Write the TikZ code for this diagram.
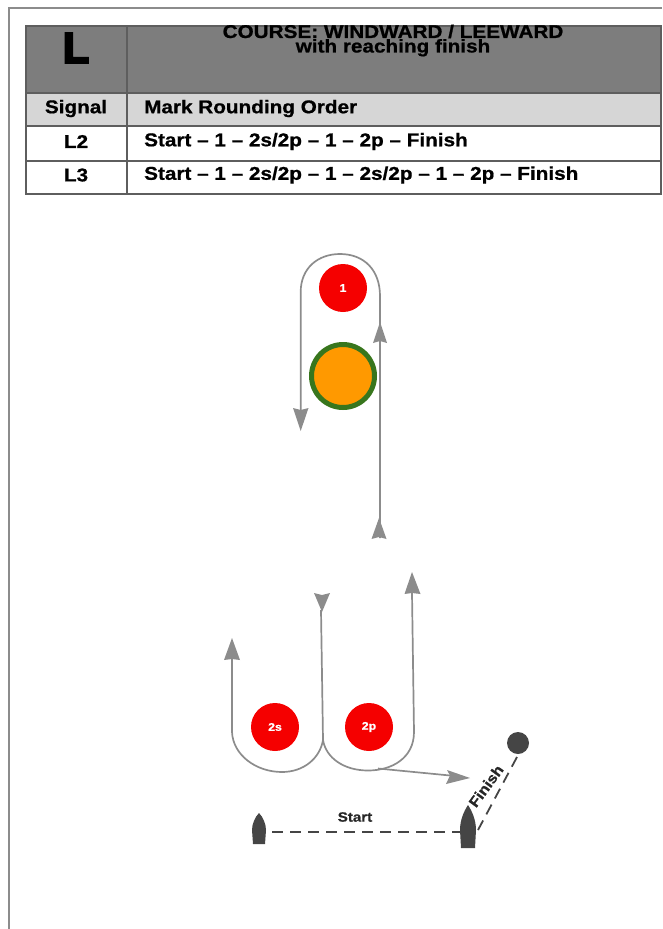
\documentclass[tikz,border=0pt]{standalone}
\usepackage{fontspec}
\setmainfont{Liberation Sans}
\newfontfamily\widefont[FakeStretch=1.12,BoldFont={Liberation Sans Bold},BoldFeatures={FakeStretch=1.12,FakeBold=0.8}]{Liberation Sans}
\newfontfamily\heavyfont[FakeBold=5]{Liberation Sans Bold}
\usetikzlibrary{arrows.meta}
\definecolor{headgray}{HTML}{7D7D7D}
\definecolor{rowgray}{HTML}{D6D6D6}
\definecolor{rulegray}{HTML}{5E5E5E}
\definecolor{trackgray}{HTML}{8C8C8C}
\definecolor{markred}{HTML}{F50000}
\definecolor{boatdark}{HTML}{454545}
\definecolor{orangefill}{HTML}{FF9900}
\definecolor{greenring}{HTML}{38761D}
\tikzset{
  cellbox/.style={draw=rulegray,line width=2pt,anchor=north west,inner sep=0pt},
  celltext/.style={font=\widefont\fontsize{18.5}{18.5}\selectfont\bfseries,inner sep=0pt,text=black},
  roundmark/.style={circle,fill=markred,minimum size=48pt,inner sep=0pt,text=white,font=\widefont\fontsize{11}{11}\selectfont\bfseries},
  track/.style={draw=trackgray,line width=1.7pt},
  headtip/.style={fill=trackgray,draw=none},
  dashline/.style={draw=boatdark,line width=1.8pt,dash pattern=on 11pt off 7pt},
  boatshape/.style={fill=boatdark,draw=none}
}
\begin{document}
\begin{tikzpicture}[x=1pt,y=-1pt]
\useasboundingbox (0,0) rectangle (662,929);
% page frame
\draw[draw=black!45,line width=1.2pt] (9,929) -- (9,8) -- (662,8);
% table cells
\node[cellbox,fill=headgray,minimum width=101pt,minimum height=67pt] (hL) at (25,25) {};
\node[cellbox,fill=headgray,minimum width=534pt,minimum height=67pt] (hT) at (126,25) {};
\node[cellbox,fill=rowgray,minimum width=101pt,minimum height=33pt] (sigA) at (25,92) {};
\node[cellbox,fill=rowgray,minimum width=534pt,minimum height=33pt] (sigB) at (126,92) {};
\node[cellbox,fill=white,minimum width=101pt,minimum height=35pt] (aA) at (25,125) {};
\node[cellbox,fill=white,minimum width=534pt,minimum height=35pt] (aB) at (126,125) {};
\node[cellbox,fill=white,minimum width=101pt,minimum height=33pt] (bA) at (25,160) {};
\node[cellbox,fill=white,minimum width=534pt,minimum height=33pt] (bB) at (126,160) {};
% table text
\node[font=\heavyfont\fontsize{43}{43}\selectfont,inner sep=0pt] (tL) at (76,48) {L};
\node[font=\widefont\fontsize{18.5}{14.5}\selectfont\bfseries,align=center,inner sep=0pt] (tT) at (393,40.5) {COURSE: WINDWARD / LEEWARD\\with reaching finish};
\node[celltext] (t1) at (76,108.5) {Signal};
\node[celltext,anchor=west] (t2) at (144,108.5) {Mark Rounding Order};
\node[celltext] (t3) at (76,141.5) {L2};
\node[celltext,anchor=west] (t4) at (144,141.5) {Start – 1 – 2s/2p – 1 – 2p – Finish};
\node[celltext] (t5) at (76,175) {L3};
\node[celltext,anchor=west] (t6) at (144,175) {Start – 1 – 2s/2p – 1 – 2s/2p – 1 – 2p – Finish};
% marks
\node[roundmark] (m1) at (343,288) {1};
\node[circle,fill=orangefill,draw=greenring,line width=5pt,minimum size=63pt,inner sep=0pt] (com) at (343,376) {};
\node[roundmark] (m2s) at (275,727) {2s};
\node[roundmark] (m2p) at (369,727) {2p};
% named points of the tracks
\coordinate (a1) at (300.7,410);
\coordinate (a2) at (380,343);
\coordinate (a3) at (380,538);
\coordinate (b1) at (232,659);
\coordinate (b2) at (323,740);
\coordinate (b3) at (321,610);
\coordinate (b4) at (412,593);
\coordinate (c1) at (378,768.5);
\coordinate (c2) at (450,775.5);
% tracks
\draw[track] (a1) -- (300.7,292) .. controls (300.7,268) and (318,254) .. (340,254) .. controls (364,254) and (380,270) .. (380,296) -- (a2) -- (a3);
\draw[track] (b1) -- (232,732) .. controls (233,755) and (256,772) .. (282,772) .. controls (304,772) and (320,758) .. (b2) -- (b3);
\draw[track] (b2) .. controls (326,758) and (344,770.5) .. (368,770.5) .. controls (392,770.5) and (414,758) .. (414,732) -- (b4);
\draw[track] (c1) -- (c2);
% arrowheads
\fill[headtip] (300.7,431) -- (293,408) -- (300.7,410) -- (308.5,408) -- cycle;
\fill[headtip] (380,322) -- (373,343) -- (380,341) -- (387,343) -- cycle;
\fill[headtip] (379,518) -- (371.5,539) -- (379,537) -- (386.5,539) -- cycle;
\fill[headtip] (232,638) -- (224,660) -- (232,659) -- (240,660) -- cycle;
\fill[headtip] (322,612) -- (314,593) -- (322,595) -- (330,593) -- cycle;
\fill[headtip] (412,572) -- (404.5,594) -- (412,593) -- (420.5,594) -- cycle;
\fill[headtip] (470,778) -- (447,770) -- (450,775.5) -- (446,784) -- cycle;
% boats and finish mark
\node[circle,fill=boatdark,minimum size=22pt,inner sep=0pt] (fm) at (518,743) {};
\fill[boatshape] (259,813) .. controls (263,817) and (266,824) .. (266,830) -- (265,844) -- (253,844) -- (252,830) .. controls (252,824) and (255,817) .. (259,813) -- cycle;
\fill[boatshape] (468,805) .. controls (472,811) and (476,820) .. (476,830) -- (475,848) -- (461,848) -- (460,830) .. controls (460,820) and (464,811) .. (468,805) -- cycle;
\coordinate (sL) at (272,832);
\coordinate (sR) at (460,832);
\coordinate (fA) at (517,757);
\coordinate (fB) at (478,830);
\draw[dashline] (sL) -- (sR);
\draw[dashline] (fA) -- (fB);
\node[font=\widefont\fontsize{13.5}{14}\selectfont\bfseries,inner sep=0pt,text=black!85] (st) at (355,817) {Start};
\node[font=\widefont\fontsize{14.5}{15}\selectfont\bfseries,inner sep=0pt,text=black!85,rotate=54] (fi) at (486,786) {Finish};
\end{tikzpicture}
\end{document}
